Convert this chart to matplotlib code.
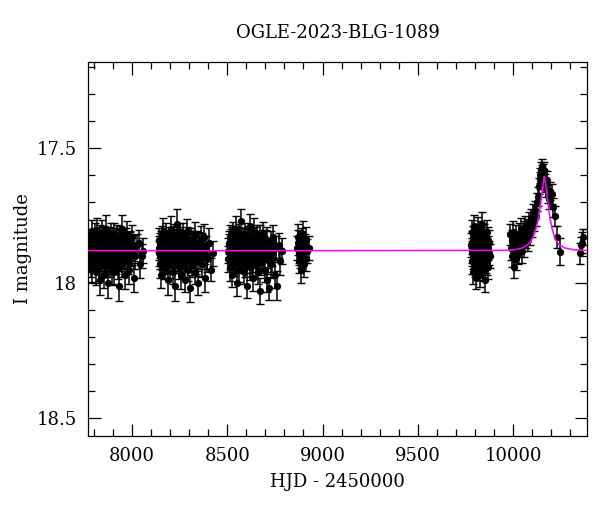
import numpy as np
import matplotlib.pyplot as plt
from matplotlib.ticker import MultipleLocator, FuncFormatter

plt.rcParams['font.family'] = ['DejaVu Serif']

# Season 1
t1 = [7776, 7778, 7781, 7784, 7786, 7789, 7792, 7795, 7797, 7800,
      7803, 7806, 7808, 7811, 7814, 7817, 7819, 7822, 7825, 7828,
      7830, 7833, 7836, 7839, 7841, 7844, 7847, 7850, 7852, 7855,
      7858, 7861, 7863, 7866, 7869, 7872, 7874, 7877, 7880, 7883,
      7885, 7888, 7891, 7894, 7896, 7899, 7902, 7905, 7907, 7910,
      7913, 7916, 7918, 7921, 7924, 7927, 7930, 7933, 7936, 7939,
      7942, 7946, 7949, 7952, 7956, 7960, 7964, 7968, 7972, 7977,
      7981, 7985, 7990, 7995, 8001, 8008, 8016, 8027, 8041, 8060,
      7777, 7783, 7788, 7794, 7799, 7805, 7810, 7816, 7821, 7827,
      7832, 7838, 7843, 7849, 7854, 7860, 7865, 7871, 7876, 7882,
      7887, 7893, 7898, 7904, 7909, 7915, 7920, 7926, 7932, 7938,
      7944, 7951, 7958, 7966, 7975, 7988, 7998, 8012, 8034, 8052]
m1 = [17.86, 17.91, 17.84, 17.93, 17.88, 17.82, 17.95, 17.87, 17.90, 17.85,
      17.92, 17.83, 17.89, 17.96, 17.86, 17.81, 17.91, 17.88, 17.94, 17.84,
      17.87, 17.99, 17.85, 17.90, 17.82, 17.93, 17.88, 17.86, 17.97, 17.83,
      17.91, 17.87, 17.80, 17.92, 17.89, 17.85, 18.00, 17.84, 17.90, 17.86,
      17.93, 17.82, 17.88, 17.95, 17.85, 17.91, 17.87, 17.83, 17.96, 17.89,
      17.86, 17.92, 17.84, 17.90, 17.87, 17.94, 17.85, 18.01, 17.83, 17.91,
      17.88, 17.80, 17.93, 17.86, 17.90, 17.84, 17.97, 17.88, 17.82, 17.92,
      17.87, 17.95, 17.85, 17.89, 17.83, 17.98, 17.90, 17.86, 17.93, 17.88,
      17.89, 17.85, 17.90, 17.87, 17.84, 17.91, 17.86, 17.88, 17.92, 17.85,
      17.83, 17.89, 17.87, 17.90, 17.86, 17.84, 17.91, 17.88, 17.85, 17.89,
      17.87, 17.92, 17.84, 17.88, 17.90, 17.86, 17.83, 17.89, 17.91, 17.87,
      17.85, 17.90, 17.88, 17.84, 17.92, 17.86, 17.89, 17.87, 17.85, 17.90]
e1 = [0.045, 0.050, 0.042, 0.048, 0.044, 0.052, 0.047, 0.043, 0.049, 0.046,
      0.041, 0.053, 0.045, 0.048, 0.044, 0.050, 0.046, 0.042, 0.051, 0.047,
      0.049, 0.055, 0.043, 0.046, 0.052, 0.044, 0.048, 0.045, 0.050, 0.041,
      0.047, 0.044, 0.051, 0.046, 0.049, 0.043, 0.054, 0.047, 0.045, 0.050,
      0.048, 0.042, 0.046, 0.053, 0.044, 0.049, 0.045, 0.051, 0.047, 0.043,
      0.050, 0.046, 0.044, 0.048, 0.052, 0.045, 0.049, 0.055, 0.042, 0.047,
      0.044, 0.051, 0.047, 0.045, 0.049, 0.043, 0.053, 0.046, 0.050, 0.048,
      0.046, 0.052, 0.044, 0.048, 0.045, 0.054, 0.047, 0.043, 0.050, 0.046,
      0.044, 0.047, 0.045, 0.049, 0.043, 0.046, 0.048, 0.044, 0.047, 0.045,
      0.046, 0.043, 0.048, 0.045, 0.047, 0.044, 0.049, 0.046, 0.043, 0.047,
      0.045, 0.048, 0.044, 0.046, 0.047, 0.043, 0.045, 0.048, 0.046, 0.044,
      0.047, 0.045, 0.049, 0.044, 0.046, 0.048, 0.043, 0.047, 0.045, 0.046]

# Season 2
t2 = [8140, 8143, 8147, 8149, 8152, 8156, 8158, 8161, 8165, 8167,
      8170, 8174, 8176, 8179, 8183, 8185, 8188, 8192, 8194, 8197,
      8200, 8204, 8206, 8209, 8213, 8215, 8218, 8222, 8224, 8227,
      8230, 8234, 8236, 8239, 8243, 8245, 8248, 8252, 8254, 8257,
      8260, 8264, 8266, 8269, 8273, 8275, 8278, 8282, 8284, 8287,
      8290, 8294, 8296, 8299, 8303, 8305, 8308, 8312, 8314, 8317,
      8320, 8324, 8328, 8332, 8336, 8340, 8344, 8348, 8352, 8356,
      8361, 8366, 8371, 8376, 8382, 8388, 8395, 8403, 8413, 8426,
      8141, 8145, 8151, 8154, 8160, 8163, 8169, 8172, 8178, 8181,
      8187, 8190, 8196, 8199, 8205, 8208, 8214, 8217, 8223, 8226,
      8232, 8238, 8241, 8247, 8250, 8256, 8262, 8268, 8271, 8277,
      8283, 8289, 8298, 8307, 8316, 8326, 8338, 8350, 8369, 8392]
m2 = [17.89, 17.84, 17.93, 17.86, 17.97, 17.83, 17.90, 17.87, 17.81, 17.92,
      17.85, 17.94, 17.88, 17.82, 17.91, 17.86, 17.99, 17.84, 17.89, 17.93,
      17.87, 17.80, 17.90, 17.85, 17.96, 17.88, 17.83, 17.92, 17.86, 18.01,
      17.89, 17.84, 17.78, 17.91, 17.87, 17.94, 17.85, 17.90, 17.82, 17.97,
      17.88, 17.86, 17.93, 17.83, 17.90, 17.85, 17.99, 17.87, 17.92, 17.84,
      17.81, 17.95, 17.88, 17.86, 17.91, 18.02, 17.84, 17.89, 17.93, 17.85,
      17.90, 17.87, 17.82, 17.96, 17.88, 17.85, 17.92, 18.00, 17.86, 17.90,
      17.84, 17.93, 17.88, 17.83, 17.98, 17.87, 17.91, 17.85, 17.95, 17.89,
      17.87, 17.90, 17.85, 17.88, 17.92, 17.84, 17.89, 17.86, 17.91, 17.87,
      17.85, 17.89, 17.92, 17.86, 17.88, 17.84, 17.90, 17.87, 17.85, 17.91,
      17.88, 17.86, 17.90, 17.84, 17.89, 17.92, 17.87, 17.85, 17.88, 17.90,
      17.86, 17.91, 17.84, 17.88, 17.89, 17.85, 17.92, 17.87, 17.86, 17.90]
e2 = [0.047, 0.044, 0.051, 0.046, 0.049, 0.043, 0.053, 0.045, 0.050, 0.048,
      0.042, 0.046, 0.052, 0.044, 0.048, 0.045, 0.054, 0.047, 0.043, 0.050,
      0.046, 0.050, 0.042, 0.048, 0.044, 0.052, 0.047, 0.043, 0.049, 0.055,
      0.045, 0.041, 0.053, 0.045, 0.048, 0.044, 0.050, 0.046, 0.042, 0.051,
      0.049, 0.044, 0.046, 0.052, 0.044, 0.048, 0.045, 0.050, 0.041, 0.047,
      0.048, 0.042, 0.046, 0.053, 0.044, 0.049, 0.045, 0.051, 0.047, 0.043,
      0.044, 0.051, 0.047, 0.045, 0.049, 0.043, 0.053, 0.046, 0.050, 0.048,
      0.050, 0.046, 0.044, 0.048, 0.052, 0.045, 0.049, 0.055, 0.042, 0.047,
      0.045, 0.047, 0.044, 0.048, 0.046, 0.043, 0.047, 0.045, 0.049, 0.044,
      0.046, 0.048, 0.043, 0.047, 0.045, 0.046, 0.044, 0.048, 0.046, 0.045,
      0.047, 0.044, 0.046, 0.049, 0.045, 0.043, 0.047, 0.046, 0.044, 0.048,
      0.045, 0.047, 0.043, 0.046, 0.048, 0.044, 0.047, 0.045, 0.046, 0.049]

# Season 3
t3 = [8505, 8508, 8512, 8514, 8517, 8521, 8523, 8526, 8530, 8532,
      8535, 8539, 8541, 8544, 8548, 8550, 8553, 8557, 8559, 8562,
      8565, 8569, 8571, 8574, 8578, 8580, 8583, 8587, 8589, 8592,
      8595, 8599, 8601, 8604, 8608, 8610, 8613, 8617, 8619, 8622,
      8625, 8629, 8631, 8634, 8638, 8640, 8643, 8647, 8649, 8652,
      8655, 8659, 8661, 8664, 8668, 8670, 8673, 8677, 8679, 8682,
      8686, 8690, 8694, 8698, 8702, 8706, 8710, 8714, 8718, 8722,
      8727, 8732, 8737, 8742, 8748, 8754, 8761, 8769, 8778, 8789,
      8506, 8510, 8516, 8519, 8525, 8528, 8534, 8537, 8543, 8546,
      8552, 8555, 8561, 8564, 8570, 8573, 8579, 8582, 8588, 8591,
      8597, 8603, 8606, 8612, 8615, 8621, 8627, 8633, 8636, 8642,
      8648, 8654, 8663, 8672, 8681, 8692, 8704, 8716, 8734, 8758]
m3 = [17.91, 17.86, 17.83, 17.94, 17.88, 17.85, 17.97, 17.90, 17.82, 17.87,
      17.93, 17.84, 17.89, 17.80, 17.92, 17.86, 18.00, 17.88, 17.83, 17.95,
      17.87, 17.90, 17.85, 17.77, 17.91, 17.84, 17.89, 17.96, 17.86, 17.82,
      17.93, 17.88, 17.85, 18.01, 17.90, 17.83, 17.87, 17.94, 17.79, 17.89,
      17.86, 17.92, 17.84, 17.98, 17.88, 17.81, 17.90, 17.85, 17.93, 17.87,
      17.83, 17.91, 17.96, 17.86, 17.89, 17.84, 18.03, 17.88, 17.92, 17.85,
      17.90, 17.82, 17.87, 17.95, 17.86, 17.99, 17.84, 17.91, 18.02, 17.88,
      17.85, 17.93, 17.89, 17.83, 17.97, 17.87, 18.01, 17.86, 17.92, 17.88,
      17.88, 17.85, 17.90, 17.87, 17.84, 17.91, 17.86, 17.89, 17.92, 17.85,
      17.87, 17.90, 17.84, 17.88, 17.91, 17.86, 17.85, 17.89, 17.87, 17.90,
      17.86, 17.92, 17.88, 17.84, 17.89, 17.87, 17.90, 17.85, 17.91, 17.88,
      17.84, 17.89, 17.87, 17.92, 17.86, 17.90, 17.85, 17.88, 17.91, 17.87]
e3 = [0.048, 0.042, 0.046, 0.053, 0.044, 0.049, 0.045, 0.051, 0.047, 0.043,
      0.045, 0.050, 0.042, 0.048, 0.044, 0.052, 0.047, 0.043, 0.049, 0.046,
      0.049, 0.055, 0.043, 0.046, 0.052, 0.044, 0.048, 0.045, 0.050, 0.041,
      0.047, 0.044, 0.051, 0.046, 0.049, 0.043, 0.054, 0.047, 0.045, 0.050,
      0.041, 0.053, 0.045, 0.048, 0.044, 0.050, 0.046, 0.042, 0.051, 0.047,
      0.046, 0.052, 0.044, 0.048, 0.045, 0.054, 0.047, 0.043, 0.050, 0.046,
      0.050, 0.046, 0.044, 0.048, 0.052, 0.045, 0.049, 0.055, 0.042, 0.047,
      0.044, 0.051, 0.047, 0.045, 0.049, 0.043, 0.053, 0.046, 0.050, 0.048,
      0.046, 0.044, 0.048, 0.045, 0.047, 0.043, 0.046, 0.049, 0.044, 0.047,
      0.045, 0.048, 0.046, 0.044, 0.047, 0.045, 0.043, 0.048, 0.046, 0.045,
      0.047, 0.044, 0.046, 0.048, 0.045, 0.047, 0.043, 0.046, 0.049, 0.044,
      0.046, 0.045, 0.048, 0.044, 0.047, 0.045, 0.046, 0.043, 0.048, 0.046]

# Season 4 (short)
t4 = [8868, 8870, 8872, 8875, 8877, 8879, 8882, 8884, 8886, 8889, 8891,
      8893, 8896, 8898, 8900, 8903, 8905, 8907, 8911, 8915, 8920, 8927]
m4 = [17.87, 17.85, 17.83, 17.92, 17.89, 17.88, 17.85, 17.90, 17.95, 17.86,
      17.84, 17.90, 17.82, 17.87, 17.89, 17.93, 17.88, 17.86, 17.84, 17.91,
      17.88, 17.87]
e4 = [0.045, 0.046, 0.048, 0.043, 0.045, 0.047, 0.044, 0.046, 0.050, 0.046,
      0.044, 0.042, 0.049, 0.045, 0.045, 0.047, 0.046, 0.043, 0.048, 0.046,
      0.044, 0.045]

# Season 5
t5 = [9781, 9783, 9785, 9787, 9790, 9792, 9794, 9797, 9799, 9801,
      9804, 9806, 9808, 9811, 9813, 9815, 9818, 9820, 9822, 9825,
      9827, 9829, 9832, 9834, 9836, 9839, 9841, 9843, 9846, 9848,
      9850, 9853, 9855, 9858, 9861, 9864, 9867, 9870, 9874, 9878,
      9782, 9786, 9789, 9793, 9796, 9800, 9803, 9807, 9810, 9814,
      9817, 9821, 9824, 9828, 9831, 9835, 9838, 9842, 9845, 9849,
      9852, 9856, 9860, 9866, 9872]
m5 = [17.86, 17.92, 17.81, 17.89, 17.96, 17.84, 17.90, 17.79, 17.93, 17.87,
      17.83, 17.98, 17.88, 17.85, 17.91, 17.80, 17.94, 17.86, 17.89, 17.84,
      17.97, 17.82, 17.90, 17.87, 17.93, 17.78, 17.88, 17.95, 17.85, 17.91,
      17.83, 17.99, 17.86, 17.89, 17.81, 17.92, 17.87, 17.94, 17.85, 17.90,
      17.88, 17.85, 17.90, 17.87, 17.84, 17.91, 17.86, 17.89, 17.92, 17.85,
      17.87, 17.90, 17.84, 17.88, 17.91, 17.86, 17.85, 17.89, 17.87, 17.90,
      17.86, 17.92, 17.88, 17.84, 17.89]
e5 = [0.045, 0.048, 0.043, 0.047, 0.044, 0.050, 0.046, 0.042, 0.049, 0.045,
      0.047, 0.043, 0.048, 0.046, 0.044, 0.045, 0.049, 0.043, 0.047, 0.045,
      0.044, 0.050, 0.046, 0.042, 0.048, 0.045, 0.047, 0.043, 0.049, 0.046,
      0.048, 0.044, 0.045, 0.047, 0.043, 0.050, 0.046, 0.044, 0.048, 0.045,
      0.046, 0.044, 0.048, 0.045, 0.047, 0.043, 0.046, 0.049, 0.044, 0.047,
      0.045, 0.048, 0.046, 0.044, 0.047, 0.045, 0.043, 0.048, 0.046, 0.045,
      0.047, 0.044, 0.046, 0.048, 0.045]

# Season 6 (event)
t6 = [9984, 9988, 9992, 9995, 9999, 10002, 10005, 10009, 10013, 10017,
      10021, 10025, 10030, 10035, 10040, 10045, 10050, 10055, 10060, 10065,
      10070, 10075, 10080, 10085, 10090,
      10094, 10100, 10105, 10110, 10116, 10122, 10128, 10133, 10138, 10141,
      10144, 10147, 10150, 10153, 10156, 10160, 10164, 10168, 10173, 10178,
      10183, 10188, 10195, 10204, 10210, 10220, 10230, 10246]
m6 = [17.82, 17.87, 17.84, 17.90, 17.86, 17.81, 17.94, 17.88, 17.83, 17.91,
      17.85, 17.89, 17.82, 17.86, 17.80, 17.88, 17.84, 17.81, 17.86, 17.79,
      17.83, 17.80, 17.84, 17.78, 17.82,
      17.76, 17.79, 17.74, 17.77, 17.73, 17.75, 17.70, 17.68, 17.64, 17.62,
      17.60, 17.58, 17.59, 17.57, 17.59, 17.58, 17.61, 17.63, 17.65, 17.62,
      17.67, 17.69, 17.66, 17.67, 17.72, 17.75, 17.83, 17.885]
e6 = [0.040, 0.045, 0.038, 0.042, 0.044, 0.039, 0.043, 0.041, 0.046, 0.040,
      0.043, 0.038, 0.042, 0.045, 0.040, 0.044, 0.041, 0.039, 0.043, 0.040,
      0.042, 0.038, 0.041, 0.044, 0.040,
      0.035, 0.038, 0.033, 0.036, 0.034, 0.037, 0.032, 0.035, 0.030, 0.032,
      0.028, 0.030, 0.027, 0.029, 0.031, 0.028, 0.030, 0.033, 0.031, 0.034,
      0.032, 0.035, 0.033, 0.036, 0.034, 0.037, 0.040, 0.050]

# Season 7
t7 = [10350, 10356, 10362, 10366]
m7 = [17.89, 17.86, 17.85, 17.83]
e7 = [0.040, 0.030, 0.040, 0.030]

# microlensing model
model_t = [7770, 9000, 9950, 10000, 10040, 10070, 10090, 10105, 10120, 10130,
           10140, 10150, 10158, 10163, 10168, 10175, 10185, 10195, 10205,
           10220, 10240, 10270, 10320, 10390]
model_m = [17.880, 17.880, 17.879, 17.877, 17.872, 17.862, 17.848, 17.830,
           17.800, 17.770, 17.730, 17.675, 17.630, 17.605, 17.620, 17.655,
           17.715, 17.765, 17.800, 17.835, 17.858, 17.870, 17.877, 17.879]

seasons = [(t1, m1, e1), (t2, m2, e2), (t3, m3, e3), (t4, m4, e4),
           (t5, m5, e5), (t6, m6, e6), (t7, m7, e7)]

fig = plt.figure(figsize=(6, 5.12), dpi=100)
ax = fig.add_axes([0.1467, 0.1484, 0.8316, 0.7305])

for t, m, e in seasons:
    ax.errorbar(t, m, yerr=e, fmt='o', color='black', ms=4.2,
                elinewidth=1.1, capsize=2.8, capthick=1.0, zorder=2)

ax.plot(model_t, model_m, color='#ff00ff', lw=1.1, zorder=3)

ax.set_xlim(7769, 10388)
ax.set_ylim(18.567, 17.181)

ax.xaxis.set_major_locator(MultipleLocator(500))
ax.xaxis.set_minor_locator(MultipleLocator(100))
ax.yaxis.set_major_locator(MultipleLocator(0.5))
ax.yaxis.set_minor_locator(MultipleLocator(0.1))
ax.yaxis.set_major_formatter(FuncFormatter(lambda v, p: f'{v:g}'))
ax.tick_params(which='both', direction='in', top=True, right=True,
               labelsize=13, width=0.9)
ax.tick_params(which='major', length=9, pad=8)
ax.tick_params(which='minor', length=5)
for s in ax.spines.values():
    s.set_linewidth(0.9)

ax.set_title('OGLE-2023-BLG-1089', fontsize=13, pad=17)
ax.set_xlabel('HJD - 2450000', fontsize=13, labelpad=6)
ax.set_ylabel('I magnitude', fontsize=13, labelpad=3)

fig.savefig('out.png', dpi=100)
